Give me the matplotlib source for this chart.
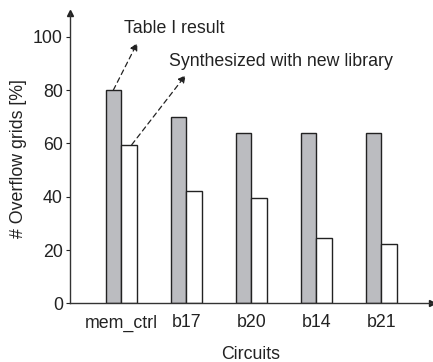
import matplotlib
matplotlib.use("Agg")
import matplotlib.pyplot as plt
import numpy as np

plt.rcParams['font.family'] = ['Liberation Sans', 'DejaVu Sans']

circuits = ["mem_ctrl", "b17", "b20", "b14", "b21"]
table1 = [80, 70, 64, 64, 64]
newlib = [59.5, 42, 39.6, 24.4, 22.2]
yticks = [0, 20, 40, 60, 80, 100]

fig = plt.figure(figsize=(4.33, 3.62), dpi=100)
ax = fig.add_axes([0.161, 0.162, 0.837, 0.802])

x = np.arange(len(circuits))
w = 0.24
ax.bar(x - w/2, table1, width=w, color='#bbbcc0', edgecolor='#222222', linewidth=1.0)
ax.bar(x + w/2, newlib, width=w, color='white', edgecolor='#222222', linewidth=1.0)

ax.set_xlim(-0.794, 4.78)
ax.set_ylim(0, 108.9)
ax.set_yticks(yticks)
ax.set_xticks(x)
ax.set_xticklabels(circuits)
ax.tick_params(axis='x', length=0, labelsize=12.8, pad=8, colors='#222222')
ax.tick_params(axis='y', length=3, width=0.8, labelsize=12.8, pad=2, colors='#222222', direction='out')
for s in ['top', 'right']:
    ax.spines[s].set_visible(False)
for s in ['left', 'bottom']:
    ax.spines[s].set_color('#333333')
    ax.spines[s].set_linewidth(1.0)

ax.plot(0, 1, marker='^', color='#222222', markersize=5, transform=ax.transAxes, clip_on=False)
ax.plot(1, 0, marker='>', color='#222222', markersize=5, transform=ax.transAxes, clip_on=False)

ax.set_ylabel("# Overflow grids [%]", fontsize=12.8, color='#222222', labelpad=4)
ax.set_xlabel("Circuits", fontsize=12.8, color='#222222', labelpad=10)

ax.annotate("", xy=(0.246, 97.7), xytext=(-0.123, table1[0]),
            arrowprops=dict(arrowstyle='-|>', linestyle=(0, (4, 3)), color='#222222', lw=0.9, mutation_scale=11,
                            shrinkA=0, shrinkB=0))
ax.text(0.04, 103.1, "Table I result", fontsize=12.8, color='#222222', va='center', ha='left')
ax.annotate("", xy=(0.99, 85.6), xytext=(0.16, newlib[0]),
            arrowprops=dict(arrowstyle='-|>', linestyle=(0, (4, 3)), color='#222222', lw=0.9, mutation_scale=11,
                            shrinkA=0, shrinkB=0))
ax.text(0.74, 90.6, "Synthesized with new library", fontsize=12.8, color='#222222', va='center', ha='left')

fig.savefig("out.png", dpi=100)
